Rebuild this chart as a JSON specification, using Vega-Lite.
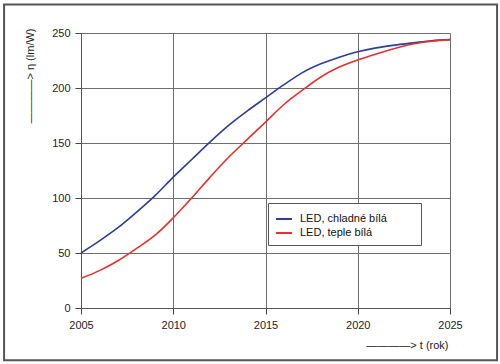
{
  "$schema": "https://vega.github.io/schema/vega-lite/v6.json",
  "autosize": {"type": "none"},
  "width": 369,
  "height": 275,
  "padding": {"left": 81, "top": 33, "right": 50, "bottom": 56},
  "background": "white",
  "config": {
    "font": "Liberation Sans",
    "view": {"stroke": null},
    "axis": {"labelFont": "Liberation Sans", "labelFontSize": 11, "labelColor": "#222", "labelFlush": false, "titleFont": "Liberation Sans", "titleFontWeight": "normal", "titleFontSize": 11, "titleColor": "#222", "gridColor": "#6e6e6e", "gridOpacity": 1, "domain": true, "domainColor": "#555", "ticks": true, "tickColor": "#444", "tickSize": 6, "tickWidth": 1, "tickOpacity": 1}
  },
  "datasets": {
    "frame": [{"x1": 2000.83, "x2": 2027.55, "y1": -47.5, "y2": 276}],
    "curves": [
      {"rok": 2005, "eta": 50, "serie": "LED, chladné bílá"},
      {"rok": 2006, "eta": 61, "serie": "LED, chladné bílá"},
      {"rok": 2007, "eta": 73, "serie": "LED, chladné bílá"},
      {"rok": 2008, "eta": 87, "serie": "LED, chladné bílá"},
      {"rok": 2009, "eta": 102, "serie": "LED, chladné bílá"},
      {"rok": 2010, "eta": 119, "serie": "LED, chladné bílá"},
      {"rok": 2011, "eta": 135, "serie": "LED, chladné bílá"},
      {"rok": 2012, "eta": 151, "serie": "LED, chladné bílá"},
      {"rok": 2013, "eta": 166, "serie": "LED, chladné bílá"},
      {"rok": 2014, "eta": 179, "serie": "LED, chladné bílá"},
      {"rok": 2015, "eta": 191, "serie": "LED, chladné bílá"},
      {"rok": 2016, "eta": 203, "serie": "LED, chladné bílá"},
      {"rok": 2017, "eta": 214, "serie": "LED, chladné bílá"},
      {"rok": 2018, "eta": 222, "serie": "LED, chladné bílá"},
      {"rok": 2019, "eta": 228, "serie": "LED, chladné bílá"},
      {"rok": 2020, "eta": 233, "serie": "LED, chladné bílá"},
      {"rok": 2021, "eta": 236.5, "serie": "LED, chladné bílá"},
      {"rok": 2022, "eta": 239, "serie": "LED, chladné bílá"},
      {"rok": 2023, "eta": 241, "serie": "LED, chladné bílá"},
      {"rok": 2024, "eta": 243, "serie": "LED, chladné bílá"},
      {"rok": 2025, "eta": 244, "serie": "LED, chladné bílá"},
      {"rok": 2005, "eta": 27, "serie": "LED, teple bílá"},
      {"rok": 2006, "eta": 34, "serie": "LED, teple bílá"},
      {"rok": 2007, "eta": 43, "serie": "LED, teple bílá"},
      {"rok": 2008, "eta": 54, "serie": "LED, teple bílá"},
      {"rok": 2009, "eta": 66, "serie": "LED, teple bílá"},
      {"rok": 2010, "eta": 82, "serie": "LED, teple bílá"},
      {"rok": 2011, "eta": 100, "serie": "LED, teple bílá"},
      {"rok": 2012, "eta": 119, "serie": "LED, teple bílá"},
      {"rok": 2013, "eta": 137, "serie": "LED, teple bílá"},
      {"rok": 2014, "eta": 153, "serie": "LED, teple bílá"},
      {"rok": 2015, "eta": 169, "serie": "LED, teple bílá"},
      {"rok": 2016, "eta": 185, "serie": "LED, teple bílá"},
      {"rok": 2017, "eta": 198, "serie": "LED, teple bílá"},
      {"rok": 2018, "eta": 210, "serie": "LED, teple bílá"},
      {"rok": 2019, "eta": 219, "serie": "LED, teple bílá"},
      {"rok": 2020, "eta": 225.5, "serie": "LED, teple bílá"},
      {"rok": 2021, "eta": 231, "serie": "LED, teple bílá"},
      {"rok": 2022, "eta": 236, "serie": "LED, teple bílá"},
      {"rok": 2023, "eta": 240, "serie": "LED, teple bílá"},
      {"rok": 2024, "eta": 242.5, "serie": "LED, teple bílá"},
      {"rok": 2025, "eta": 244, "serie": "LED, teple bílá"}
    ]
  },
  "layer": [
    {
      "data": {"name": "curves"},
      "mark": {"type": "line", "strokeWidth": 1.6, "interpolate": "monotone"},
      "encoding": {
        "x": {
          "field": "rok", "type": "quantitative",
          "scale": {"domain": [2005, 2025], "nice": false, "zero": false},
          "axis": {"values": [2005, 2010, 2015, 2020, 2025], "format": "d", "labelPadding": 5, "ticks": true, "tickSize": 6,
                   "title": "————> t (rok)", "titleAnchor": "end", "titleAlign": "right", "titleX": 367, "titleY": 37, "titleBaseline": "middle"}
        },
        "y": {
          "field": "eta", "type": "quantitative",
          "scale": {"domain": [0, 250], "nice": false},
          "axis": {"values": [0, 50, 100, 150, 200, 250], "labelPadding": 5, "ticks": true, "tickSize": 6,
                   "title": "————> η (lm/W)", "titleAngle": -90, "titleAlign": "right", "titleBaseline": "middle", "titleX": -51, "titleY": -5}
        },
        "color": {
          "field": "serie", "type": "nominal",
          "scale": {"domain": ["LED, chladné bílá", "LED, teple bílá"], "range": ["#2a3f97", "#e6312b"]},
          "legend": {
            "title": "\u00a0", "titleOrient": "right", "titlePadding": 27, "titleFontSize": 11,
            "orient": "none", "legendX": 187, "legendY": 170,
            "symbolType": "stroke", "symbolSize": 256, "symbolStrokeWidth": 2,
            "labelFontSize": 11, "labelColor": "#111", "labelFont": "Liberation Sans",
            "strokeColor": "#555", "fillColor": "white", "padding": 7, "rowPadding": 0, "labelOffset": 7
          }
        }
      }
    },
    {
      "data": {"name": "frame"},
      "mark": {"type": "rect", "fill": null, "stroke": "#555", "strokeWidth": 2, "clip": false},
      "encoding": {
        "x": {"field": "x1", "type": "quantitative", "scale": {"domain": [2005, 2025], "nice": false, "zero": false}},
        "x2": {"field": "x2"},
        "y": {"field": "y1", "type": "quantitative", "scale": {"domain": [0, 250], "nice": false}},
        "y2": {"field": "y2"}
      }
    }
  ]
}
